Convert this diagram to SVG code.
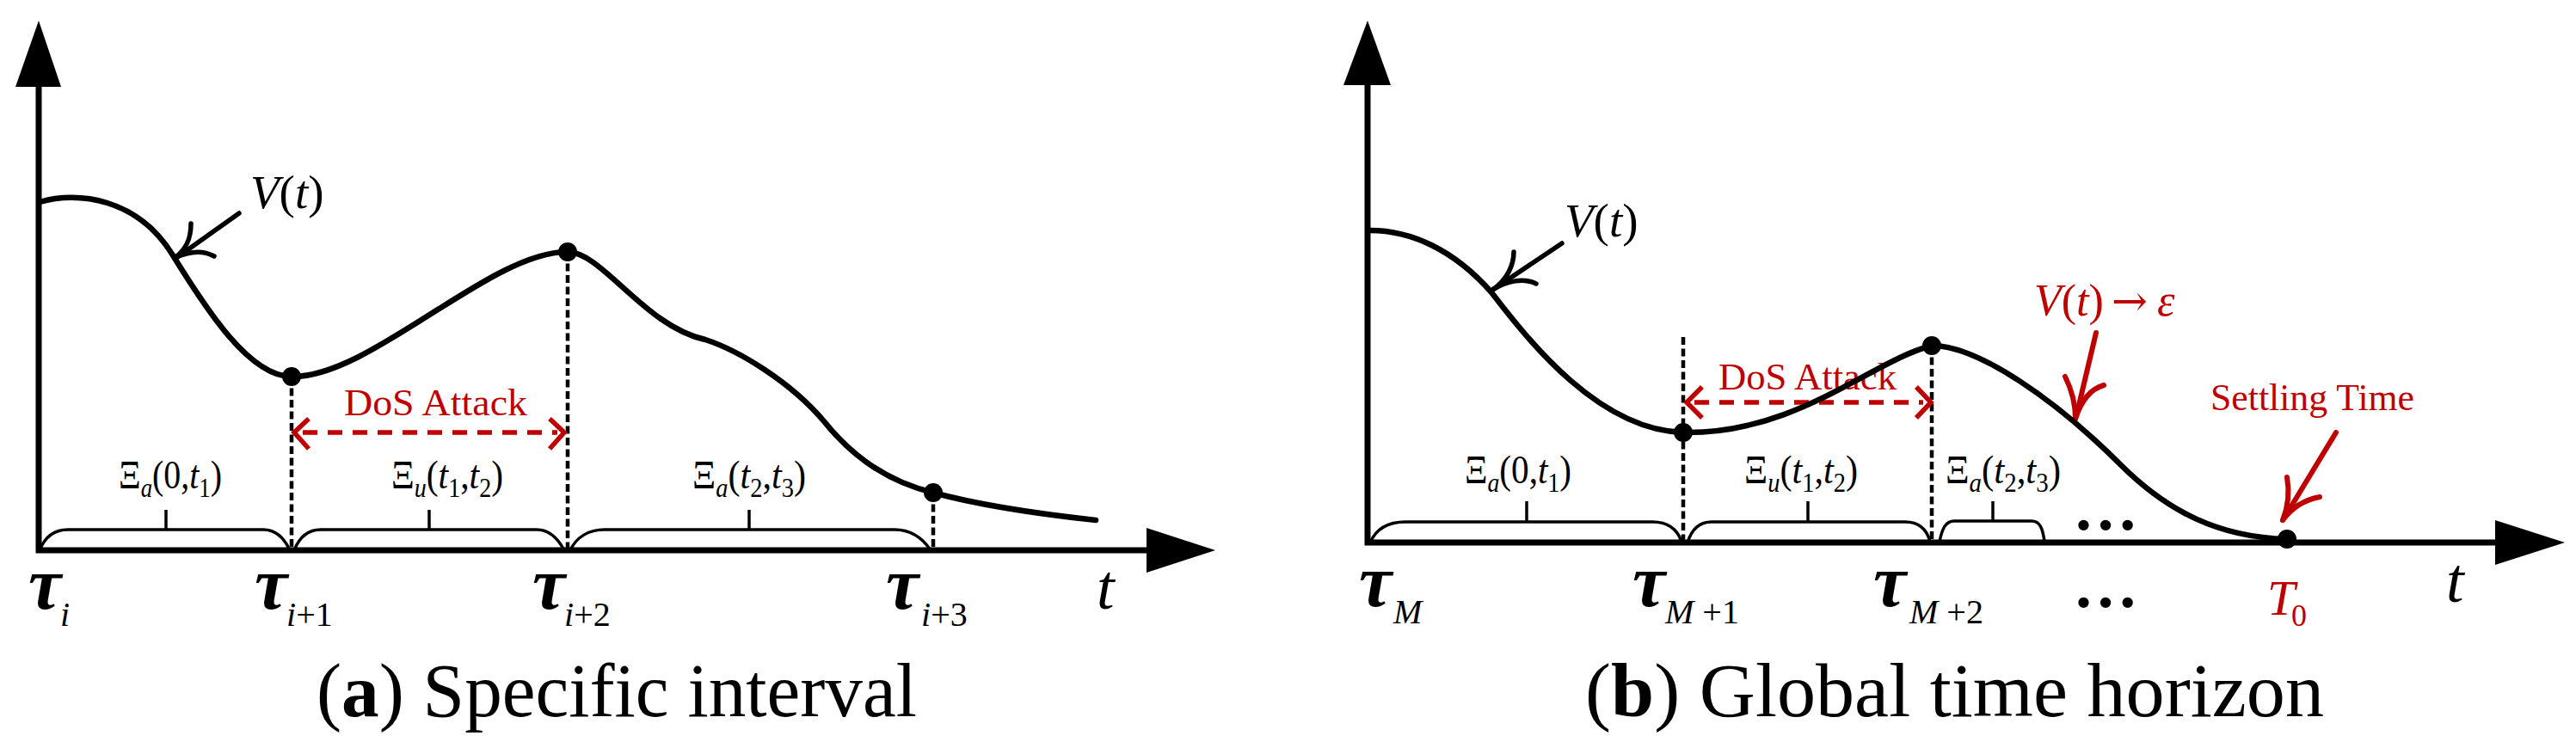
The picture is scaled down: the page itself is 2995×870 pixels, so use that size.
<svg xmlns="http://www.w3.org/2000/svg" width="2995" height="870" viewBox="0 0 2995 870" font-family="'Liberation Serif','Times New Roman',serif">
<style>
.ax{fill:none;stroke:#000;stroke-width:7;stroke-linejoin:miter}
.ah{fill:#000;stroke:none}
.cv{fill:none;stroke:#000;stroke-width:6.5;stroke-linecap:round;stroke-linejoin:round}
.ds{fill:none;stroke:#000;stroke-width:4.5;stroke-dasharray:9 4.5}
.br{fill:none;stroke:#000;stroke-width:3.5;stroke-linejoin:round}
.dot{fill:#000}
.pt{fill:none;stroke:#000;stroke-width:5.5;stroke-linecap:round}
.rpt{fill:none;stroke:#C00000;stroke-width:6;stroke-linecap:round}
.dos{fill:none;stroke:#C00000;stroke-width:5.5;stroke-dasharray:17 12}
.chev{fill:none;stroke:#C00000;stroke-width:5.5;stroke-linecap:butt;stroke-linejoin:miter}
text{font-family:"Liberation Serif","Times New Roman",serif;fill:#000}
.m{font-size:46px}
.sub{font-size:31px;font-style:italic}
.subn{font-size:31px;font-style:normal}
.it{font-style:italic}
.tau{font-size:86px;font-style:italic;font-weight:bold}
.ts{font-size:40px}
.red{fill:#C00000}
.lbl{font-size:44px;fill:#C00000}
.cap{font-size:88px}
.el{font-size:76px;font-weight:bold}
.arr{font-family:"DejaVu Serif","Liberation Serif",serif;font-size:50px}
.vt{font-size:55px}
</style>

<g id="panel-a">
  <g id="axes-a">
    <polyline class="ax" points="45,100 45,640 1335,640"/>
    <polygon class="ah" points="45,24 18,101 71,101"/>
    <polygon class="ah" points="1413,640 1333,614 1333,666"/>
  </g>
  <g id="braces-a">
    <path class="br" d="M46,640 C52,625 62,616 79,616 L306,616 C320,616 330,625 337,640"/>
    <line class="br" x1="193" y1="593" x2="193" y2="616"/>
    <path class="br" d="M342,640 C348,625 358,616 373,616 L624,616 C638,616 648,625 656,640"/>
    <line class="br" x1="499" y1="593" x2="499" y2="616"/>
    <path class="br" d="M663,640 C670,625 684,616 703,616 L1040,616 C1058,616 1072,625 1082,640"/>
    <line class="br" x1="871" y1="593" x2="871" y2="616"/>
  </g>
  <g id="connectors-a">
    <line class="ds" x1="339" y1="438" x2="339" y2="640"/>
    <line class="ds" x1="660" y1="293" x2="660" y2="640"/>
    <line class="ds" x1="1085" y1="573" x2="1085" y2="640"/>
    <line class="dos" x1="352" y1="503" x2="648" y2="503"/>
    <polyline class="chev" points="359,487 342,503 359,522"/>
    <polyline class="chev" points="639,487 656,503 639,522"/>
    <line class="pt" x1="278" y1="248" x2="205" y2="300"/>
    <path class="pt" d="M222,260 C222,272 220,288 203,300"/>
    <path class="pt" d="M249,298 C236,291 220,292 203,300"/>
  </g>
  <g id="curve-a">
    <path class="cv" d="M46,235 C90,222 160,230 201,297 C240,360 290,438 339,438 C430,440 570,292 660,293 C700,293 750,380 820,395 C860,408 920,445 958,490 C990,530 1030,560 1085,573 C1140,588 1210,598 1274,605"/>
    <circle class="dot" cx="339" cy="438" r="11"/>
    <circle class="dot" cx="660" cy="293" r="11"/>
    <circle class="dot" cx="1085" cy="573" r="11"/>
  </g>
  <g id="labels-a">
    <text class="vt" x="291" y="242"><tspan class="it">V</tspan>(<tspan class="it">t</tspan>)</text>
    <text class="lbl" x="400" y="483" textLength="213" lengthAdjust="spacingAndGlyphs">DoS Attack</text>
    <text class="m" x="138" y="568" textLength="120" lengthAdjust="spacingAndGlyphs">Ξ<tspan class="sub" dy="10">a</tspan><tspan dy="-10">(0,</tspan><tspan class="it">t</tspan><tspan class="subn" dy="10">1</tspan><tspan dy="-10">)</tspan></text>
    <text class="m" x="455" y="568" textLength="130" lengthAdjust="spacingAndGlyphs">Ξ<tspan class="sub" dy="10">u</tspan><tspan dy="-10">(</tspan><tspan class="it">t</tspan><tspan class="subn" dy="10">1</tspan><tspan dy="-10">,</tspan><tspan class="it">t</tspan><tspan class="subn" dy="10">2</tspan><tspan dy="-10">)</tspan></text>
    <text class="m" x="805" y="568" textLength="132" lengthAdjust="spacingAndGlyphs">Ξ<tspan class="sub" dy="10">a</tspan><tspan dy="-10">(</tspan><tspan class="it">t</tspan><tspan class="subn" dy="10">2</tspan><tspan dy="-10">,</tspan><tspan class="it">t</tspan><tspan class="subn" dy="10">3</tspan><tspan dy="-10">)</tspan></text>
    <text class="tau" x="33" y="708">τ</text><text class="ts it" x="70" y="728">i</text>
    <text class="tau" x="296" y="708">τ</text><text class="ts" x="333" y="728"><tspan class="it">i</tspan>+1</text>
    <text class="tau" x="619" y="708">τ</text><text class="ts" x="656" y="728"><tspan class="it">i</tspan>+2</text>
    <text class="tau" x="1030" y="708">τ</text><text class="ts" x="1071" y="728"><tspan class="it">i</tspan>+3</text>
    <text class="it" x="1275" y="708" style="font-size:74px">t</text>
    <text class="cap" x="368" y="833" textLength="698" lengthAdjust="spacingAndGlyphs">(<tspan font-weight="bold">a</tspan>) Specific interval</text>
  </g>
</g>

<g id="panel-b">
  <g id="axes-b">
    <polyline class="ax" points="1590,98 1590,631 2903,631"/>
    <polygon class="ah" points="1590,24 1562,99 1617,99"/>
    <polygon class="ah" points="2982,631 2901,605 2901,657"/>
  </g>
  <g id="braces-b">
    <path class="br" d="M1593,631 C1600,615 1614,607 1634,607 L1921,607 C1938,607 1950,615 1955,630"/>
    <line class="br" x1="1775" y1="583" x2="1775" y2="607"/>
    <path class="br" d="M1962,631 C1967,615 1976,607 1990,607 L2215,607 C2230,607 2240,615 2244,630"/>
    <line class="br" x1="2102" y1="583" x2="2102" y2="607"/>
    <path class="br" d="M2255,630 C2258,615 2262,606 2272,606 L2362,606 C2372,606 2375,615 2377,630"/>
    <line class="br" x1="2317" y1="583" x2="2317" y2="606"/>
  </g>
  <g id="connectors-b">
    <line class="ds" x1="1957" y1="392" x2="1957" y2="631"/>
    <line class="ds" x1="2246" y1="402" x2="2246" y2="631"/>
    <line class="dos" x1="1970" y1="468" x2="2236" y2="468"/>
    <polyline class="chev" points="1979,450 1961,468 1979,486"/>
    <polyline class="chev" points="2228,450 2245,468 2228,486"/>
    <line class="pt" x1="1816" y1="283" x2="1737" y2="336"/>
    <path class="pt" d="M1760,293 C1760,306 1754,325 1734,338"/>
    <path class="pt" d="M1786,330 C1772,323 1752,326 1734,338"/>
    <line class="rpt" x1="2437" y1="387" x2="2414" y2="484"/>
    <path class="rpt" d="M2401,438 C2408,452 2413,468 2413,487"/>
    <path class="rpt" d="M2446,448 C2432,452 2420,465 2413,487"/>
    <line class="rpt" x1="2716" y1="503" x2="2656" y2="602"/>
    <path class="rpt" d="M2659,555 C2662,572 2660,590 2654,605"/>
    <path class="rpt" d="M2697,578 C2681,581 2665,590 2654,605"/>
  </g>
  <g id="labels-b-under">
    <text class="lbl" x="1998" y="453" textLength="207" lengthAdjust="spacingAndGlyphs">DoS Attack</text>
  </g>
  <g id="curve-b">
    <path class="cv" d="M1593,268 C1640,268 1690,290 1734,340 C1780,400 1860,500 1957,503 C2090,505 2175,420 2246,402 C2300,402 2390,465 2465,540 C2520,595 2580,625 2659,627"/>
    <circle class="dot" cx="1957" cy="503" r="11"/>
    <circle class="dot" cx="2246" cy="402" r="11"/>
    <circle class="dot" cx="2659" cy="627" r="11"/>
  </g>
  <g id="labels-b">
    <text class="vt" x="1819" y="275"><tspan class="it">V</tspan>(<tspan class="it">t</tspan>)</text>
    <text class="red" x="2365" y="367" style="font-size:52px"><tspan class="it">V</tspan>(<tspan class="it">t</tspan>)<tspan class="arr" x="2455">→</tspan><tspan class="it" x="2508">ε</tspan></text>
    <text class="lbl" x="2570" y="477" textLength="237" lengthAdjust="spacingAndGlyphs">Settling Time</text>
    <text class="m" x="1703" y="562" textLength="124" lengthAdjust="spacingAndGlyphs">Ξ<tspan class="sub" dy="10">a</tspan><tspan dy="-10">(0,</tspan><tspan class="it">t</tspan><tspan class="subn" dy="10">1</tspan><tspan dy="-10">)</tspan></text>
    <text class="m" x="2028" y="562" textLength="132" lengthAdjust="spacingAndGlyphs">Ξ<tspan class="sub" dy="10">u</tspan><tspan dy="-10">(</tspan><tspan class="it">t</tspan><tspan class="subn" dy="10">1</tspan><tspan dy="-10">,</tspan><tspan class="it">t</tspan><tspan class="subn" dy="10">2</tspan><tspan dy="-10">)</tspan></text>
    <text class="m" x="2262" y="562" textLength="134" lengthAdjust="spacingAndGlyphs">Ξ<tspan class="sub" dy="10">a</tspan><tspan dy="-10">(</tspan><tspan class="it">t</tspan><tspan class="subn" dy="10">2</tspan><tspan dy="-10">,</tspan><tspan class="it">t</tspan><tspan class="subn" dy="10">3</tspan><tspan dy="-10">)</tspan></text>
    <text class="el" x="2410" y="616">…</text>
    <text class="el" x="2410" y="706">…</text>
    <text class="tau" x="1580" y="705">τ</text><text class="ts it" x="1620" y="725">M</text>
    <text class="tau" x="1898" y="705">τ</text><text class="ts" x="1936" y="725"><tspan class="it">M</tspan> +1</text>
    <text class="tau" x="2178" y="705">τ</text><text class="ts" x="2220" y="725"><tspan class="it">M</tspan> +2</text>
    <text class="red it" x="2636" y="715" style="font-size:58px">T</text><text class="red" x="2664" y="728" style="font-size:36px">0</text>
    <text class="it" x="2844" y="700" style="font-size:74px">t</text>
    <text class="cap" x="1843" y="833" textLength="859" lengthAdjust="spacingAndGlyphs">(<tspan font-weight="bold">b</tspan>) Global time horizon</text>
  </g>
</g>
</svg>
